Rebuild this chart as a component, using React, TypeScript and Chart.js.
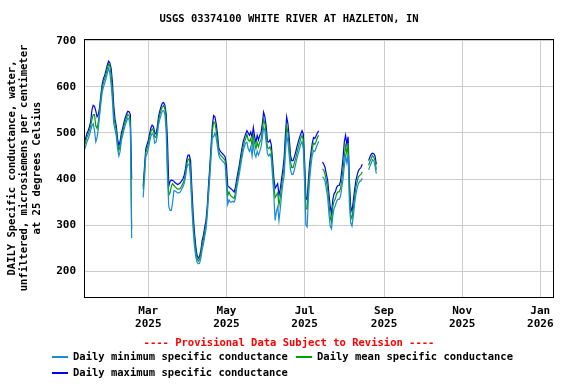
import React, { useEffect, useRef } from "react";
import { Chart, registerables } from "chart.js";

Chart.register(...registerables);

// Day-of-year (0 = 1 Jan 2025) of the first daily value (10 Jan 2025)
const START_DAY = 9;

const dailyMin: (number | null)[] = [
  462, 470, 480, 487, 495, 505, 515, 520, 505, 481,
  490, 510, 538, 565, 588, 600, 608, 618, 630, 640,
  630, 605, 570, 520, 508, 493, 466, 450, 460, 484,
  495, 507, 517, 525, 532, 530, 510, 272, null, null,
  null, null, null, null, null, null, 360, 400, 448, 455,
  466, 480, 493, 499, 496, 478, 480, 495, 518, 530,
  540, 548, 548, 540, 500, 400, 340, 332, 332, 350,
  375, 374, 372, 370, 370, 372, 378, 383, 390, 404,
  424, 432, 432, 400, 340, 290, 255, 232, 220, 216,
  217, 228, 246, 258, 275, 290, 320, 363, 403, 448,
  493, 492, 500, 490, 470, 452, 445, 442, 439, 436,
  432, 385, 345, 355, 350, 350, 352, 350, 358, 380,
  395, 410, 428, 445, 460, 470, 478, 480, 465, 460,
  470, 450, 478, 455, 448, 460, 452, 460, 470, 488,
  512, 505, 480, 455, 450, 455, 445, 405, 365, 310,
  330, 340, 310, 335, 365, 390, 405, 455, 495, 480,
  450, 420, 410, 410, 420, 432, 445, 455, 465, 475,
  482, 465, 390, 300, 296, 360, 400, 430, 452, 462,
  460, 468, 475, 482, null, null, 405, 402, 395, 378,
  360, 325, 298, 292, 320, 336, 342, 352, 356, 356,
  362, 380, 400, 428, 450, 435, 455, 345, 305, 298,
  318, 345, 366, 380, 390, 395, 396, 402, null, null,
  null, null, 420, 428, 435, 442, 440, 428, 412,
];

const dailyMean: (number | null)[] = [
  470, 480, 490, 497, 505, 515, 530, 540, 540, 515,
  510, 525, 548, 575, 598, 610, 618, 628, 640, 650,
  645, 625, 590, 540, 520, 505, 478, 462, 472, 492,
  503, 515, 525, 533, 540, 538, 525, 292, null, null,
  null, null, null, null, null, null, 378, 415, 458, 466,
  476, 490, 503, 509, 506, 492, 490, 505, 528, 540,
  550, 557, 560, 552, 525, 420, 365, 370, 385, 390,
  386, 383, 380, 378, 378, 380, 385, 390, 398, 412,
  432, 442, 444, 415, 355, 305, 270, 245, 228, 222,
  225, 238, 256, 268, 285, 300, 330, 375, 415, 460,
  505, 524, 522, 505, 485, 460, 453, 450, 447, 444,
  440, 405, 364, 372, 365, 362, 360, 358, 370, 390,
  405, 420, 438, 455, 470, 480, 488, 497, 485, 482,
  488, 472, 495, 478, 466, 479, 470, 480, 485, 505,
  530, 520, 500, 468, 466, 470, 460, 425, 386, 360,
  365, 370, 343, 360, 385, 405, 425, 475, 515, 500,
  470, 438, 425, 425, 435, 445, 457, 468, 478, 488,
  495, 485, 420, 335, 335, 385, 420, 445, 466, 478,
  475, 482, 490, 495, null, null, 422, 419, 410, 395,
  380, 348, 318, 307, 340, 352, 357, 368, 372, 372,
  379, 398, 420, 450, 472, 455, 478, 370, 322, 314,
  335, 360, 382, 394, 405, 408, 410, 416, null, null,
  null, null, 430, 438, 444, 451, 448, 440, 420,
];

const dailyMax: (number | null)[] = [
  478, 488, 498, 505, 513, 524, 550, 560, 558, 548,
  535, 540, 556, 583, 606, 618, 626, 636, 648, 656,
  652, 640, 610, 560, 530, 515, 488, 472, 482, 500,
  511, 523, 533, 541, 547, 546, 540, 400, null, null,
  null, null, null, null, null, null, 385, 425, 465, 475,
  484, 498, 511, 517, 514, 500, 498, 513, 536, 548,
  558, 565, 566, 560, 540, 480, 385, 395, 398, 397,
  395, 392, 390, 388, 390, 392, 396, 400, 408, 422,
  442, 452, 452, 440, 380, 325, 285, 255, 235, 228,
  232, 245, 266, 278, 295, 310, 340, 387, 427, 472,
  517, 538, 535, 520, 498, 468, 461, 458, 455, 452,
  448, 430, 385, 383, 380, 378, 375, 372, 382, 400,
  415, 430, 448, 465, 480, 490, 498, 505, 500, 495,
  502, 490, 512, 492, 480, 495, 485, 495, 500, 520,
  545, 535, 515, 482, 480, 485, 475, 440, 402, 380,
  385, 390, 365, 378, 400, 420, 445, 495, 535, 520,
  490, 452, 440, 440, 448, 458, 470, 480, 490, 498,
  505, 498, 440, 360, 355, 400, 435, 458, 478, 490,
  488, 494, 500, 505, null, null, 437, 432, 425, 410,
  398, 368, 340, 325, 355, 368, 372, 382, 386, 386,
  395, 418, 445, 480, 495, 475, 492, 395, 340, 330,
  352, 376, 396, 408, 418, 422, 425, 432, null, null,
  null, null, 440, 448, 454, 456, 455, 450, 432,
];

const tickDays = [59, 120, 181, 243, 304, 365];
const tickMonths = ["Mar", "May", "Jul", "Sep", "Nov", "Jan"];
const tickYears = ["2025", "2025", "2025", "2025", "2025", "2026"];
const yTicks = [200, 300, 400, 500, 600, 700];

const TITLE = "USGS 03374100 WHITE RIVER AT HAZLETON, IN";
const Y_TITLE = [
  "DAILY Specific conductance, water,",
  "unfiltered, microsiemens per centimeter",
  "at 25 degrees Celsius",
];
const PROVISIONAL = "---- Provisional Data Subject to Revision ----";
const LABEL_MIN = "Daily minimum specific conductance";
const LABEL_MEAN = "Daily mean specific conductance";
const LABEL_MAX = "Daily maximum specific conductance";

const COLOR_MIN = "#1a8ad8";
const COLOR_MEAN = "#00a000";
const COLOR_MAX = "#0000ff";

const FONT = "'DejaVu Sans Mono', 'Liberation Mono', monospace";

const toPoints = (arr: (number | null)[]) =>
  arr.map((v, i) => ({ x: START_DAY + i, y: v }));

const decorPlugin = {
  id: "decor",
  afterDraw(chart: any) {
    const ctx = chart.ctx as CanvasRenderingContext2D;
    const area = chart.chartArea;
    ctx.save();
    // frame
    ctx.strokeStyle = "#000";
    ctx.lineWidth = 1;
    ctx.strokeRect(
      Math.round(area.left) + 0.5,
      Math.round(area.top) + 0.5,
      Math.round(area.right - area.left) - 1,
      Math.round(area.bottom - area.top)
    );
    // title
    ctx.fillStyle = "#000";
    ctx.font = `bold 10.5px ${FONT}`;
    ctx.textAlign = "center";
    ctx.textBaseline = "middle";
    ctx.fillText(TITLE, 289, 19);
    // y title
    const cy = (area.top + area.bottom) / 2;
    const xs = [12, 24.5, 37];
    Y_TITLE.forEach((line, i) => {
      ctx.save();
      ctx.translate(xs[i], cy);
      ctx.rotate(-Math.PI / 2);
      ctx.fillText(line, 0, 0);
      ctx.restore();
    });
    // provisional
    ctx.fillStyle = "#ff0000";
    ctx.fillText(PROVISIONAL, 289, 343);
    // legend
    ctx.textAlign = "left";
    const items: [string, string, number, number][] = [
      [LABEL_MIN, COLOR_MIN, 52, 357],
      [LABEL_MEAN, COLOR_MEAN, 296, 357],
      [LABEL_MAX, COLOR_MAX, 52, 373],
    ];
    items.forEach(([label, color, x, y]) => {
      ctx.fillStyle = color;
      ctx.fillRect(x, y - 1, 16, 2);
      ctx.fillStyle = "#000";
      ctx.fillText(label, x + 21, y);
    });
    ctx.restore();
  },
};

export default function App() {
  const ref = useRef<HTMLCanvasElement | null>(null);
  useEffect(() => {
    if (!ref.current) return;
    const ds = (label: string, data: (number | null)[], color: string, order: number) => ({
      label,
      data: toPoints(data),
      borderColor: color,
      backgroundColor: color,
      borderWidth: 1.2,
      pointRadius: 0,
      fill: false,
      spanGaps: false,
      tension: 0,
      order,
    });
    const chart = new Chart(ref.current, {
      type: "line",
      data: {
        datasets: [
          ds(LABEL_MIN, dailyMin, COLOR_MIN, 1),
          ds(LABEL_MEAN, dailyMean, COLOR_MEAN, 2),
          ds(LABEL_MAX, dailyMax, COLOR_MAX, 3),
        ],
      },
      options: {
        animation: false,
        responsive: false,
        devicePixelRatio: 1,
        parsing: false as any,
        normalized: true,
        layout: { padding: { top: 39, right: 22, left: 0, bottom: 0 } },
        plugins: {
          legend: { display: false },
          title: { display: false },
          tooltip: { enabled: false },
        },
        scales: {
          x: {
            type: "linear",
            min: 8.8,
            max: 375.7,
            afterBuildTicks: (s: any) => {
              s.ticks = tickDays.map((v) => ({ value: v }));
            },
            afterFit: (s: any) => {
              s.height = 87;
            },
            grid: { color: "#cccccc", drawTicks: false, lineWidth: 1 },
            border: { display: false },
            ticks: {
              autoSkip: false,
              maxRotation: 0,
              padding: 8,
              color: "#000",
              font: { family: FONT, size: 11, weight: "bold", lineHeight: 1.15 },
              callback: (_v: any, i: number) => [tickMonths[i], tickYears[i]],
            },
          },
          y: {
            type: "linear",
            min: 144,
            max: 704,
            afterBuildTicks: (s: any) => {
              s.ticks = yTicks.map((v) => ({ value: v }));
            },
            afterFit: (s: any) => {
              s.width = 84;
            },
            grid: { color: "#cccccc", drawTicks: false, lineWidth: 1 },
            border: { display: false },
            ticks: {
              padding: 8,
              color: "#000",
              font: { family: FONT, size: 11, weight: "bold" },
              callback: (v: any) => String(v),
            },
          },
        },
      },
      plugins: [decorPlugin],
    } as any);
    return () => chart.destroy();
  }, []);
  return (
    <div style={{ position: "fixed", left: 0, top: 0, width: 576, height: 384, background: "#fff" }}>
      <canvas ref={ref} width={576} height={384} style={{ width: 576, height: 384, display: "block" }} />
    </div>
  );
}
